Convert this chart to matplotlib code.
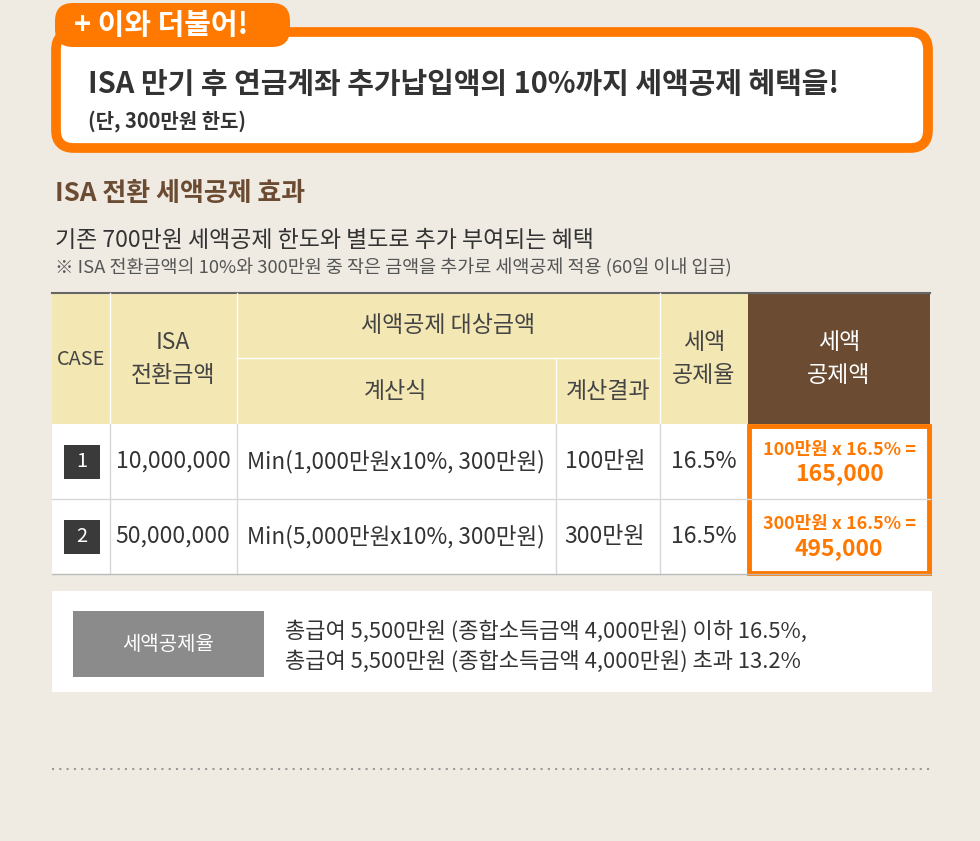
import matplotlib
matplotlib.use("Agg")
import matplotlib.pyplot as plt
from matplotlib.patches import FancyBboxPatch, Rectangle

plt.rcParams["font.family"] = "Noto Sans CJK KR"

cases = ["1", "2"]
amounts = ["10,000,000", "50,000,000"]
formulas = ["Min(1,000만원x10%, 300만원)", "Min(5,000만원x10%, 300만원)"]
targets = ["100만원", "300만원"]
rates = ["16.5%", "16.5%"]
calc = ["100만원 x 16.5% =", "300만원 x 16.5% ="]
results = ["165,000", "495,000"]

BG = "#efebe3"; OR = "#ff7800"; BR = "#6b4c33"; YE = "#f3e7b4"; TX = "#333333"
fig = plt.figure(figsize=(9.8, 8.41), dpi=100, facecolor=BG)
ax = fig.add_axes([0, 0, 1, 1]); ax.set_xlim(0, 980); ax.set_ylim(841, 0); ax.axis("off")
P = 0.72

def t(x, y, s, px, c=TX, w="normal", ha="left"):
    ax.text(x, y, s, fontsize=px * P, color=c, fontweight=w, ha=ha, va="center")

# top box
ax.add_patch(FancyBboxPatch((56, 32), 872, 116, boxstyle="round,pad=0,rounding_size=18", fc="white", ec=OR, lw=7))
ax.add_patch(FancyBboxPatch((55, 3), 235, 44, boxstyle="round,pad=0,rounding_size=18", fc=OR, ec="none"))
t(74, 25, "+ 이와 더불어!", 29, "white", "bold")
t(88, 84, "ISA 만기 후 연금계좌 추가납입액의 10%까지 세액공제 혜택을!", 29, TX, "bold")
t(88, 121, "(단, 300만원 한도)", 20, TX, "bold")

t(55, 193, "ISA 전환 세액공제 효과", 26, BR, "bold")
t(55, 240, "기존 700만원 세액공제 한도와 별도로 추가 부여되는 혜택", 23)
t(55, 268, "※ ISA 전환금액의 10%와 300만원 중 작은 금액을 추가로 세액공제 적용 (60일 이내 입금)", 18.5, "#555555")

# table
y0, ym, yh, y1, y2 = 293, 358, 424, 499, 574
ax.add_patch(Rectangle((52, y0), 696, yh - y0, fc=YE, ec="none"))
ax.add_patch(Rectangle((748, y0), 182, yh - y0, fc=BR, ec="none"))
ax.add_patch(Rectangle((52, yh), 878, y2 - yh, fc="white", ec="none"))
ax.plot([52, 930], [y0, y0], color="#666666", lw=1.5)
lc = "#d8d8d8"
for x in [110, 237, 660]:
    ax.plot([x, x], [y0, yh], color="white", lw=1)
    ax.plot([x, x], [yh, y2], color=lc, lw=1)
ax.plot([556, 556], [ym, yh], color="white", lw=1)
ax.plot([556, 556], [yh, y2], color=lc, lw=1)
ax.plot([237, 660], [ym, ym], color="white", lw=1)
ax.plot([52, 930], [y1, y1], color=lc, lw=1)
ax.plot([52, 930], [y2, y2], color="#bbbbbb", lw=1)

hc = "#444444"
t(81, 359, "CASE", 20, hc, ha="center")
t(173, 342, "ISA", 23, hc, ha="center"); t(173, 375, "전환금액", 23, hc, ha="center")
t(448, 325, "세액공제 대상금액", 23, hc, ha="center")
t(396, 391, "계산식", 23, hc, ha="center")
t(608, 391, "계산결과", 23, hc, ha="center")
t(704, 342, "세액", 23, hc, ha="center"); t(704, 375, "공제율", 23, hc, ha="center")
t(839, 342, "세액", 23, "white", ha="center"); t(839, 375, "공제액", 23, "white", ha="center")

for i in range(2):
    yc = (yh + y1) / 2 + i * 75
    ax.add_patch(Rectangle((64, yc - 17), 36, 34, fc="#3a3a3a", ec="none"))
    t(82, yc, cases[i], 20, "white", ha="center")
    t(173, yc, amounts[i], 23, TX, ha="center")
    t(396, yc, formulas[i], 22.5, TX, ha="center")
    t(605, yc, targets[i], 23, TX, ha="center")
    t(704, yc, rates[i], 23, TX, ha="center")
    t(839, yc - 12, calc[i], 18, OR, "bold", "center")
    t(839, yc + 12, results[i], 23, OR, "bold", "center")
ax.add_patch(Rectangle((749, 426), 180, 147, fc="none", ec=OR, lw=3.5))

# bottom box
ax.add_patch(Rectangle((52, 591), 880, 101, fc="white", ec="none"))
ax.add_patch(Rectangle((73, 611), 191, 66, fc="#8b8b8b", ec="none"))
t(168, 644, "세액공제율", 20, "white", ha="center")
t(285, 632, "총급여 5,500만원 (종합소득금액 4,000만원) 이하 16.5%,", 22)
t(285, 662, "총급여 5,500만원 (종합소득금액 4,000만원) 초과 13.2%", 22)

ax.plot([52, 932], [769, 769], color="#999999", lw=1.5, ls=(0, (1, 2.5)))
fig.savefig("out.png", dpi=100, facecolor=BG)
